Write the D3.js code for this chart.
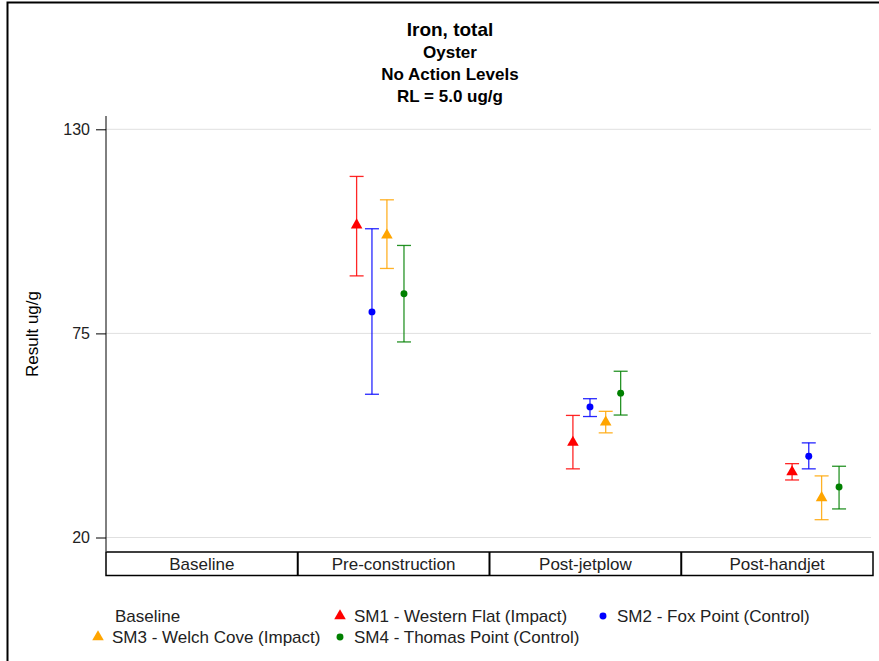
<!DOCTYPE html>
<html>
<head>
<meta charset="utf-8">
<script src="https://cdn.jsdelivr.net/npm/d3@7"></script>
<style>
  body { margin: 0; background: #fff; }
  svg { font-family: "Liberation Sans", Arial, sans-serif; }
</style>
</head>
<body>
<svg id="canvas" width="879" height="661"></svg>
<script>
// periods shown in the category table under the plot
var periods = ["Baseline", "Pre-construction", "Post-jetplow", "Post-handjet"];

var titles = ["Iron, total", "Oyster", "No Action Levels", "RL = 5.0 ug/g"];
var yTicks = [20, 75, 130];

// stations
var stations = ["SM1 - Western Flat (Impact)", "SM2 - Fox Point (Control)",
                "SM3 - Welch Cove (Impact)", "SM4 - Thomas Point (Control)"];
var stationColors = ["#ff0000", "#0000ff", "#ffa500", "#008000"];
var stationShapes = ["triangle", "circle", "triangle", "circle"];

// sample position along the period axis (0..4), one per station per period
var sm1X = [1.307, 2.435, 3.578];
var sm2X = [1.387, 2.524, 3.665];
var sm3X = [1.465, 2.606, 3.732];
var sm4X = [1.554, 2.684, 3.823];

// means, lower and upper limits (ug/g)
var sm1Mean = [104.2, 45.6, 37.7];
var sm1Low  = [90.5, 38.5, 35.5];
var sm1High = [117.3, 52.9, 39.9];

var sm2Mean = [80.8, 55.2, 41.9];
var sm2Low  = [58.6, 52.6, 38.5];
var sm2High = [103.2, 57.4, 45.5];

var sm3Mean = [101.5, 51.1, 30.7];
var sm3Low  = [92.5, 48.2, 24.8];
var sm3High = [111.0, 54.0, 36.6];

var sm4Mean = [85.7, 58.9, 33.6];
var sm4Low  = [72.7, 53.0, 27.7];
var sm4High = [98.7, 64.8, 39.2];

var seriesX = [sm1X, sm2X, sm3X, sm4X];
var seriesMean = [sm1Mean, sm2Mean, sm3Mean, sm4Mean];
var seriesLow = [sm1Low, sm2Low, sm3Low, sm4Low];
var seriesHigh = [sm1High, sm2High, sm3High, sm4High];

var svg = d3.select("#canvas");

// outer frame
svg.append("rect")
    .attr("x", 7.5).attr("y", 2.5)
    .attr("width", 900).attr("height", 700)
    .attr("fill", "none").attr("stroke", "#000").attr("stroke-width", 2);

// titles
var titleY = [36, 58, 80, 102];
titles.forEach(function(t, i) {
    svg.append("text")
        .attr("x", 450).attr("y", titleY[i])
        .attr("text-anchor", "middle")
        .attr("font-weight", "bold")
        .attr("font-size", i == 0 ? "19px" : "17px")
        .text(t);
});

var left = 106, right = 873;
var x = d3.scaleLinear().domain([0, periods.length]).range([left, right]);
var y = d3.scaleLinear().domain([20, 130]).range([537.5, 129.3]);

// gridlines
svg.append("g").selectAll("line").data(yTicks).enter().append("line")
    .attr("x1", left).attr("x2", 871)
    .attr("y1", function(d) { return y(d); })
    .attr("y2", function(d) { return y(d); })
    .attr("stroke", "#e0e0e0").attr("stroke-width", 1);

// y axis
var yAxis = svg.append("g")
    .attr("transform", "translate(" + left + ",0)")
    .call(d3.axisLeft(y).tickValues(yTicks).tickSize(10).tickPadding(6));
yAxis.select(".domain").attr("d", "M0,116V551").attr("stroke", "#000");
yAxis.selectAll("text").attr("font-size", "16px").attr("fill", "#222")
    .attr("font-family", "Liberation Sans, Arial, sans-serif");

svg.append("text")
    .attr("transform", "translate(38,334) rotate(-90)")
    .attr("text-anchor", "middle")
    .attr("font-size", "17px")
    .text("Result ug/g");

// period table
var table = svg.append("g");
table.append("rect")
    .attr("x", left).attr("y", 552)
    .attr("width", right - left).attr("height", 23.5)
    .attr("fill", "none").attr("stroke", "#000").attr("stroke-width", 1.5);
for (var k = 1; k < periods.length; k++) {
    table.append("line")
        .attr("x1", x(k)).attr("x2", x(k))
        .attr("y1", 552).attr("y2", 575.5)
        .attr("stroke", "#000").attr("stroke-width", 2);
}
periods.forEach(function(p, i) {
    table.append("text")
        .attr("x", x(i + 0.5)).attr("y", 569.5)
        .attr("text-anchor", "middle")
        .attr("font-size", "17px")
        .attr("fill", "#222")
        .text(p);
});

var triangle = d3.symbol().type(d3.symbolTriangle).size(58);
var circle = d3.symbol().type(d3.symbolCircle).size(38);

function drawMarker(g, shape, color, cx, cy) {
    g.append("path")
        .attr("d", shape == "triangle" ? triangle() : circle())
        .attr("transform", "translate(" + cx + "," + cy + ")")
        .attr("fill", color);
}

// error bars + markers
var plot = svg.append("g");
for (var s = 0; s < stations.length; s++) {
    var color = stationColors[s];
    for (var j = 0; j < seriesX[s].length; j++) {
        var px = x(seriesX[s][j]);
        var lo = y(seriesLow[s][j]), hi = y(seriesHigh[s][j]);
        var g = plot.append("g").attr("stroke", color).attr("stroke-width", 1.3)
            .attr("stroke-opacity", 0.85);
        g.append("line").attr("x1", px).attr("x2", px).attr("y1", lo).attr("y2", hi);
        g.append("line").attr("x1", px - 7).attr("x2", px + 7).attr("y1", lo).attr("y2", lo);
        g.append("line").attr("x1", px - 7).attr("x2", px + 7).attr("y1", hi).attr("y2", hi);
        drawMarker(plot, stationShapes[s], color, px, y(seriesMean[s][j]));
    }
}

// legend
var legend = svg.append("g").attr("font-size", "17px").attr("fill", "#222");
legend.append("text").attr("x", 115).attr("y", 622).text("Baseline");
var legendPos = [[340, 616], [603, 616], [98, 637], [340, 637]];
stations.forEach(function(name, i) {
    var lp = legendPos[i];
    drawMarker(legend, stationShapes[i], stationColors[i], lp[0], lp[1]);
    legend.append("text").attr("x", lp[0] + 14).attr("y", lp[1] + 6).text(name);
});
</script>
</body>
</html>
